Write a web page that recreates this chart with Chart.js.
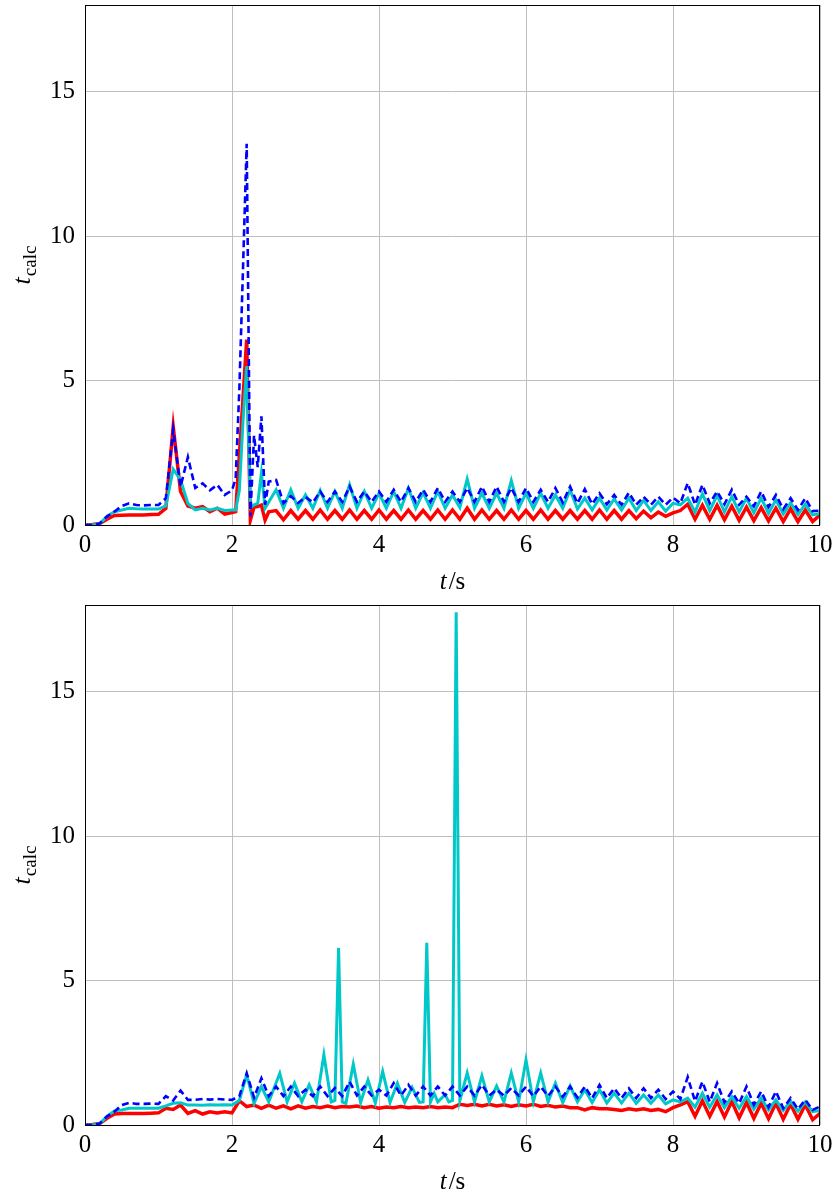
<!DOCTYPE html>
<html>
<head>
<meta charset="utf-8">
<script src="https://cdn.jsdelivr.net/npm/chart.js@4.4.1/dist/chart.umd.min.js"></script>
<style>
  html, body { margin: 0; padding: 0; background: #fff; }
  canvas { display: block; }
</style>
</head>
<body>
<canvas id="top-chart" width="839" height="600"></canvas>
<canvas id="bottom-chart" width="839" height="598"></canvas>
<script>
// axis ticks
const xTicks = [0, 2, 4, 6, 8, 10];
const yTicks = [0, 5, 10, 15];

// upper panel: time grid (s) shared by the three curves
const tTop = [
  0, 0.1, 0.2, 0.3, 0.4, 0.5, 0.6, 0.7, 0.8, 0.9,
  1.0, 1.1, 1.2, 1.3, 1.4, 1.5, 1.6, 1.7, 1.8, 1.9,
  2.0, 2.05, 2.1, 2.15, 2.2, 2.25, 2.3, 2.35, 2.4, 2.45,
  2.5, 2.6, 2.7, 2.8, 2.9, 3.0, 3.1, 3.2, 3.3, 3.4,
  3.5, 3.6, 3.7, 3.8, 3.9, 4.0, 4.1, 4.2, 4.3, 4.4,
  4.5, 4.6, 4.7, 4.8, 4.9, 5.0, 5.1, 5.2, 5.3, 5.4,
  5.5, 5.6, 5.7, 5.8, 5.9, 6.0, 6.1, 6.2, 6.3, 6.4,
  6.5, 6.6, 6.7, 6.8, 6.9, 7.0, 7.1, 7.2, 7.3, 7.4,
  7.5, 7.6, 7.7, 7.8, 7.9, 8.0, 8.1, 8.2, 8.3, 8.4,
  8.5, 8.6, 8.7, 8.8, 8.9, 9.0, 9.1, 9.2, 9.3, 9.4,
  9.5, 9.6, 9.7, 9.8, 9.9, 10.0
];
const topRed = [
  0, 0.02, 0.05, 0.2, 0.33, 0.34, 0.35, 0.35, 0.35, 0.36,
  0.37, 0.58, 3.41, 1.16, 0.66, 0.58, 0.64, 0.46, 0.58, 0.38,
  0.43, 0.46, 2.4, 4.4, 6.42, 0.17, 0.62, 0.64, 0.69, 0.17,
  0.46, 0.5, 0.18, 0.5, 0.2, 0.5, 0.2, 0.52, 0.2, 0.5,
  0.2, 0.52, 0.2, 0.5, 0.2, 0.52, 0.2, 0.5, 0.2, 0.52,
  0.2, 0.5, 0.2, 0.52, 0.2, 0.52, 0.2, 0.58, 0.2, 0.52,
  0.2, 0.5, 0.2, 0.52, 0.2, 0.5, 0.2, 0.52, 0.2, 0.5,
  0.2, 0.5, 0.2, 0.5, 0.2, 0.52, 0.2, 0.5, 0.2, 0.5,
  0.22, 0.48, 0.25, 0.45, 0.3, 0.42, 0.5, 0.72, 0.2, 0.68,
  0.2, 0.68, 0.18, 0.65, 0.16, 0.62, 0.15, 0.6, 0.14, 0.58,
  0.12, 0.56, 0.12, 0.52, 0.12, 0.35
];
const topCyan = [
  0, 0, 0.05, 0.3, 0.46, 0.52, 0.58, 0.56, 0.55, 0.55,
  0.55, 0.66, 1.93, 1.56, 0.75, 0.52, 0.58, 0.52, 0.58, 0.5,
  0.52, 0.52, 1.2, 3.6, 5.5, 0.6, 0.7, 0.75, 1.8, 0.58,
  0.8, 1.22, 0.58, 1.22, 0.58, 1.04, 0.58, 1.2, 0.58, 1.16,
  0.58, 1.39, 0.58, 1.16, 0.58, 1.1, 0.58, 1.16, 0.58, 1.27,
  0.58, 1.12, 0.58, 1.16, 0.58, 1.04, 0.6, 1.59, 0.58, 1.1,
  0.58, 1.1, 0.58, 1.54, 0.58, 1.1, 0.58, 1.1, 0.58, 1.04,
  0.58, 1.22, 0.55, 0.93, 0.52, 0.93, 0.52, 0.9, 0.52, 0.93,
  0.5, 0.85, 0.5, 0.8, 0.48, 0.75, 0.7, 0.93, 0.45, 1.08,
  0.5, 1.03, 0.45, 0.98, 0.45, 0.93, 0.42, 0.93, 0.4, 0.87,
  0.38, 0.77, 0.36, 0.72, 0.35, 0.4
];
const topBlue = [
  0, 0, 0.05, 0.3, 0.46, 0.66, 0.75, 0.69, 0.68, 0.69,
  0.69, 0.93, 3.3, 1.33, 2.35, 1.28, 1.44, 1.2, 1.39, 1.04,
  1.2, 1.6, 4.7, 8.9, 13.2, 0.3, 3.1, 2.0, 3.76, 0.7,
  1.5, 1.56, 0.76, 1.0, 0.76, 0.97, 0.78, 1.16, 0.8, 1.16,
  0.8, 1.33, 0.8, 1.16, 0.8, 1.16, 0.8, 1.22, 0.8, 1.28,
  0.8, 1.22, 0.8, 1.28, 0.8, 1.16, 0.8, 1.28, 0.8, 1.33,
  0.8, 1.33, 0.8, 1.28, 0.8, 1.28, 0.8, 1.22, 0.8, 1.28,
  0.78, 1.33, 0.75, 1.24, 0.72, 1.1, 0.72, 1.04, 0.7, 1.12,
  0.7, 0.98, 0.7, 0.98, 0.7, 0.95, 0.75, 1.45, 0.7, 1.39,
  0.75, 1.16, 0.72, 1.22, 0.7, 0.98, 0.65, 1.16, 0.62, 1.04,
  0.55, 0.93, 0.52, 0.93, 0.48, 0.5
];

// lower panel: red and blue on a 0.1 s grid
const tBot = [
  0, 0.1, 0.2, 0.3, 0.4, 0.5, 0.6, 0.7, 0.8, 0.9,
  1.0, 1.1, 1.2, 1.3, 1.4, 1.5, 1.6, 1.7, 1.8, 1.9,
  2.0, 2.1, 2.2, 2.3, 2.4, 2.5, 2.6, 2.7, 2.8, 2.9,
  3.0, 3.1, 3.2, 3.3, 3.4, 3.5, 3.6, 3.7, 3.8, 3.9,
  4.0, 4.1, 4.2, 4.3, 4.4, 4.5, 4.6, 4.7, 4.8, 4.9,
  5.0, 5.1, 5.2, 5.3, 5.4, 5.5, 5.6, 5.7, 5.8, 5.9,
  6.0, 6.1, 6.2, 6.3, 6.4, 6.5, 6.6, 6.7, 6.8, 6.9,
  7.0, 7.1, 7.2, 7.3, 7.4, 7.5, 7.6, 7.7, 7.8, 7.9,
  8.0, 8.1, 8.2, 8.3, 8.4, 8.5, 8.6, 8.7, 8.8, 8.9,
  9.0, 9.1, 9.2, 9.3, 9.4, 9.5, 9.6, 9.7, 9.8, 9.9,
  10.0
];
const botRed = [
  0, 0.02, 0.05, 0.23, 0.38, 0.4, 0.4, 0.4, 0.4, 0.41,
  0.42, 0.58, 0.54, 0.69, 0.4, 0.5, 0.38, 0.46, 0.42, 0.46,
  0.42, 0.84, 0.64, 0.69, 0.58, 0.69, 0.58, 0.66, 0.56, 0.66,
  0.58, 0.64, 0.6, 0.66, 0.6, 0.64, 0.62, 0.66, 0.6, 0.64,
  0.58, 0.62, 0.6, 0.64, 0.6, 0.62, 0.6, 0.64, 0.6, 0.62,
  0.6, 0.72, 0.68, 0.72, 0.66, 0.72, 0.66, 0.7, 0.64, 0.7,
  0.66, 0.72, 0.64, 0.68, 0.62, 0.66, 0.6, 0.6, 0.52, 0.6,
  0.56, 0.56, 0.54, 0.5, 0.56, 0.52, 0.56, 0.5, 0.54, 0.46,
  0.6, 0.7, 0.81, 0.3, 0.84, 0.3, 0.81, 0.28, 0.81, 0.25,
  0.78, 0.23, 0.75, 0.22, 0.75, 0.2, 0.72, 0.2, 0.7, 0.18,
  0.4
];
const botBlue = [
  0, 0, 0.05, 0.3, 0.46, 0.69, 0.77, 0.73, 0.73, 0.74,
  0.73, 1.0, 0.85, 1.19, 0.87, 0.87, 0.9, 0.88, 0.9, 0.88,
  0.87, 1.0, 1.79, 0.95, 1.62, 1.0, 1.33, 1.0, 1.33, 1.0,
  1.22, 1.0, 1.33, 1.0, 1.28, 1.0, 1.5, 1.02, 1.33, 1.02,
  1.22, 1.02, 1.45, 1.02, 1.39, 1.02, 1.33, 1.02, 1.33, 1.02,
  1.33, 1.02, 1.33, 1.02, 1.39, 1.02, 1.22, 1.02, 1.28, 1.02,
  1.33, 1.0, 1.33, 1.0, 1.33, 0.98, 1.33, 0.95, 1.33, 0.93,
  1.39, 0.93, 1.27, 0.93, 1.27, 0.93, 1.27, 0.93, 1.22, 0.9,
  1.16, 0.9, 1.66, 0.82, 1.5, 0.8, 1.45, 0.78, 1.16, 0.75,
  1.33, 0.7, 1.16, 0.62, 1.16, 0.58, 0.93, 0.55, 0.87, 0.52,
  0.64
];

// lower panel: cyan has its own (finer) steps around the spikes
const tBotCyan = [
  0, 0.1, 0.2, 0.3, 0.4, 0.5, 0.6, 0.7, 0.8, 0.9,
  1.0, 1.1, 1.2, 1.3, 1.4, 1.5, 1.6, 1.7, 1.8, 1.9,
  2.0, 2.1, 2.2, 2.3, 2.4, 2.5, 2.65, 2.75, 2.85, 2.95,
  3.05, 3.15, 3.25, 3.35, 3.4, 3.45, 3.5, 3.55, 3.65, 3.75,
  3.85, 3.95, 4.05, 4.15, 4.25, 4.35, 4.45, 4.55, 4.6, 4.65,
  4.7, 4.75, 4.8, 4.9, 4.95, 5.0, 5.05, 5.1, 5.2, 5.3,
  5.4, 5.5, 5.6, 5.7, 5.8, 5.9, 6.0, 6.1, 6.2, 6.3,
  6.4, 6.5, 6.6, 6.7, 6.8, 6.9, 7.0, 7.1, 7.2, 7.3,
  7.4, 7.5, 7.6, 7.7, 7.8, 7.9, 8.0, 8.1, 8.2, 8.3,
  8.4, 8.5, 8.6, 8.7, 8.8, 8.9, 9.0, 9.1, 9.2, 9.3,
  9.4, 9.5, 9.6, 9.7, 9.8, 9.9, 10.0
];
const botCyan = [
  0, 0, 0.05, 0.3, 0.49, 0.52, 0.58, 0.58, 0.58, 0.58,
  0.58, 0.66, 0.75, 0.77, 0.69, 0.69, 0.68, 0.7, 0.69, 0.7,
  0.69, 0.85, 1.74, 0.75, 1.33, 0.8, 1.79, 0.8, 1.45, 0.8,
  1.39, 0.8, 2.43, 0.8, 0.85, 6.13, 0.8, 0.75, 2.1, 0.78,
  1.56, 0.76, 1.85, 0.78, 1.45, 0.78, 1.3, 0.78, 0.8, 6.31,
  0.8, 1.1, 0.8, 1.05, 0.8, 0.85, 17.75, 0.85, 1.8, 0.8,
  1.7, 0.8, 1.35, 0.8, 1.8, 0.8, 2.25, 0.8, 1.8, 0.8,
  1.45, 0.78, 1.35, 0.8, 1.22, 0.78, 1.22, 0.76, 1.1, 0.76,
  1.1, 0.75, 1.04, 0.75, 1.04, 0.73, 0.87, 0.8, 0.93, 0.62,
  1.1, 0.62, 1.04, 0.6, 0.98, 0.58, 0.98, 0.55, 0.93, 0.52,
  0.87, 0.5, 0.82, 0.48, 0.8, 0.46, 0.5
];

const RED = '#ff0000';
const CYAN = '#00c8c8';
const BLUE = '#0000ff';
const SERIF = "'Liberation Serif', 'DejaVu Serif', serif";

function pts(ts, vs) {
  return ts.map((t, i) => ({x: t, y: vs[i]}));
}

// frame around the plot area plus the two axis titles (italic t, subscript calc)
const frameAndTitles = {
  id: 'frameAndTitles',
  afterDraw(chart) {
    const {ctx, chartArea: a} = chart;
    ctx.save();
    ctx.strokeStyle = '#000';
    ctx.lineWidth = 1;
    ctx.strokeRect(a.left + 0.5, a.top + 0.5, a.right - a.left - 1, a.bottom - a.top);

    ctx.fillStyle = '#000';
    ctx.textBaseline = 'alphabetic';
    ctx.textAlign = 'left';

    // x title: t/s
    ctx.font = 'italic 25px ' + SERIF;
    const wT = ctx.measureText('t').width;
    ctx.font = '25px ' + SERIF;
    const wS = ctx.measureText('/s').width;
    let x0 = (a.left + a.right) / 2 - (wT + wS + 2) / 2;
    ctx.font = 'italic 25px ' + SERIF;
    ctx.fillText('t', x0, a.bottom + 64);
    ctx.font = '25px ' + SERIF;
    ctx.fillText('/s', x0 + wT + 2, a.bottom + 64);

    // y title: t_calc
    ctx.translate(30, (a.top + a.bottom) / 2);
    ctx.rotate(-Math.PI / 2);
    ctx.font = 'italic 26px ' + SERIF;
    const wt = ctx.measureText('t').width;
    ctx.font = '19px ' + SERIF;
    const wc = ctx.measureText('calc').width;
    const s0 = -(wt + 1 + wc) / 2;
    ctx.font = 'italic 26px ' + SERIF;
    ctx.fillText('t', s0, 0);
    ctx.font = '19px ' + SERIF;
    ctx.fillText('calc', s0 + wt + 1, 6);
    ctx.restore();
  }
};

function makeChart(id, datasets, canvasHeight) {
  return new Chart(document.getElementById(id), {
    type: 'line',
    data: {datasets: datasets},
    options: {
      responsive: false,
      animation: false,
      layout: {padding: {top: 5, right: 19, left: 0, bottom: 0}},
      elements: {point: {radius: 0}, line: {tension: 0}},
      plugins: {legend: {display: false}, tooltip: {enabled: false}},
      scales: {
        x: {
          type: 'linear', min: 0, max: 10,
          afterBuildTicks: s => { s.ticks = xTicks.map(v => ({value: v})); },
          afterFit: s => {
            s.height = canvasHeight - 525;
            s.paddingLeft = 0; s.paddingRight = 0;
          },
          grid: {color: '#bfbfbf', lineWidth: 1, drawTicks: false},
          border: {display: false},
          ticks: {color: '#000', padding: 5, maxRotation: 0, font: {family: SERIF, size: 25}}
        },
        y: {
          type: 'linear', min: 0, max: 18,
          afterBuildTicks: s => { s.ticks = yTicks.map(v => ({value: v})); },
          afterFit: s => {
            s.width = 85;
            s.paddingTop = 0; s.paddingBottom = 0;
          },
          grid: {color: '#bfbfbf', lineWidth: 1, drawTicks: false},
          border: {display: false},
          ticks: {color: '#000', padding: 10, font: {family: SERIF, size: 25}}
        }
      }
    },
    plugins: [frameAndTitles]
  });
}

// blue dashed is listed first so it is drawn on top
makeChart('top-chart', [
  {data: pts(tTop, topBlue), borderColor: BLUE, borderWidth: 2.6, borderDash: [7, 4]},
  {data: pts(tTop, topCyan), borderColor: CYAN, borderWidth: 3},
  {data: pts(tTop, topRed), borderColor: RED, borderWidth: 3.5}
], 600);

makeChart('bottom-chart', [
  {data: pts(tBot, botBlue), borderColor: BLUE, borderWidth: 2.6, borderDash: [7, 4]},
  {data: pts(tBotCyan, botCyan), borderColor: CYAN, borderWidth: 3},
  {data: pts(tBot, botRed), borderColor: RED, borderWidth: 3.5}
], 598);
</script>
</body>
</html>
